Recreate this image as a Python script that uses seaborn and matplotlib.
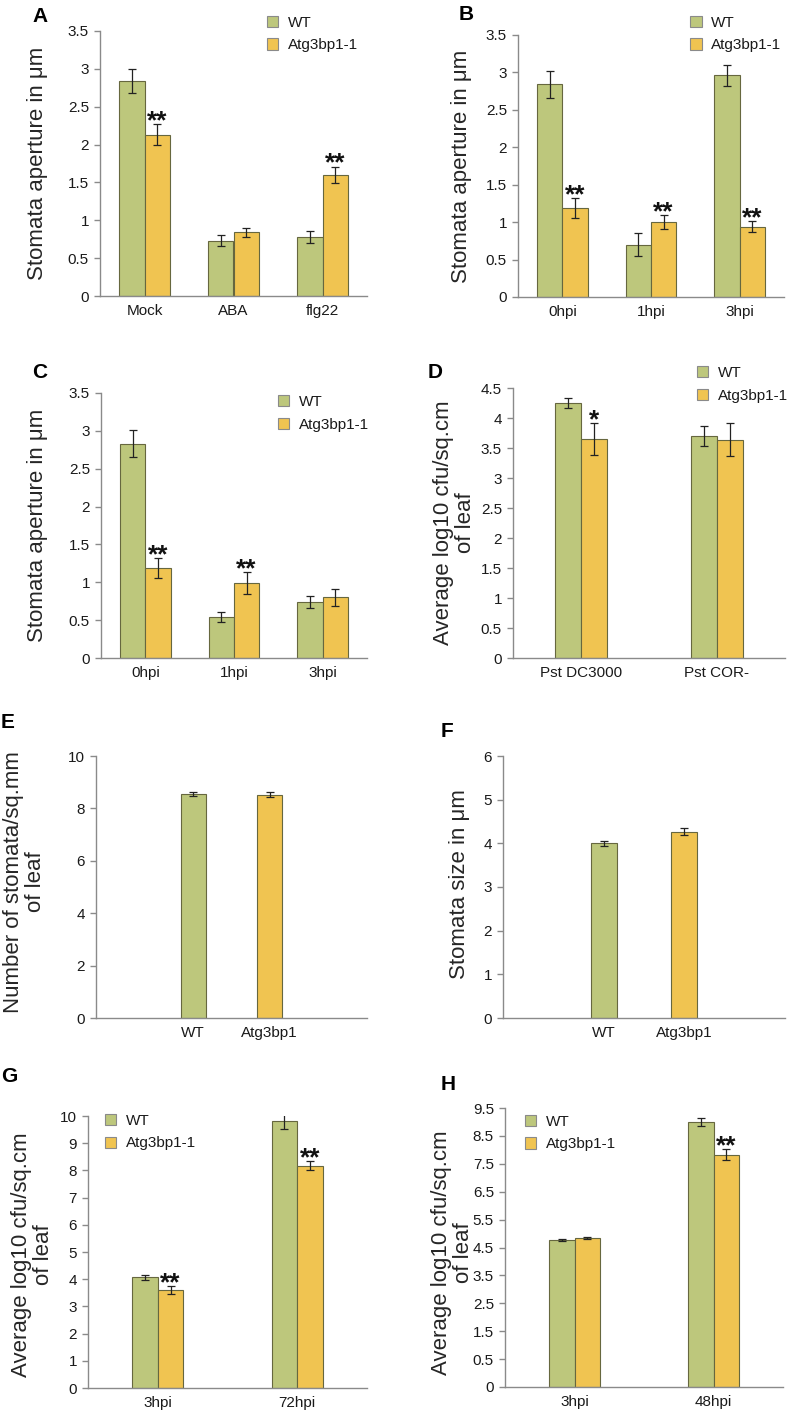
import numpy as np
import pandas as pd
import matplotlib
matplotlib.use("Agg")
import matplotlib.pyplot as plt
from matplotlib.patches import Patch
import seaborn as sns

genotypes = ["WT", "Atg3bp1-1"]
green = "#BDC77C"
yellow = "#F0C451"

# A: stomata aperture after treatment
a_cats = ["Mock", "ABA", "flg22"]
a_wt = [2.84, 0.73, 0.78]
a_wt_err = [0.16, 0.07, 0.08]
a_atg = [2.13, 0.84, 1.60]
a_atg_err = [0.14, 0.06, 0.11]
a_sig = ["**", "", "**"]

# B: stomata aperture after infection
b_cats = ["0hpi", "1hpi", "3hpi"]
b_wt = [2.84, 0.70, 2.96]
b_wt_err = [0.18, 0.15, 0.14]
b_atg = [1.19, 1.00, 0.94]
b_atg_err = [0.13, 0.09, 0.07]
b_sig = ["**", "**", "**"]

# C
c_cats = ["0hpi", "1hpi", "3hpi"]
c_wt = [2.83, 0.54, 0.74]
c_wt_err = [0.18, 0.07, 0.08]
c_atg = [1.19, 0.99, 0.80]
c_atg_err = [0.13, 0.14, 0.11]
c_sig = ["**", "**", ""]

# D: bacterial counts
d_cats = ["Pst DC3000", "Pst COR-"]
d_wt = [4.25, 3.70]
d_wt_err = [0.09, 0.17]
d_atg = [3.65, 3.64]
d_atg_err = [0.26, 0.27]
d_sig = ["*", ""]

# E / F: stomata density and size
ef_cats = ["WT", "Atg3bp1"]
e_vals = [8.55, 8.53]
e_err = [0.09, 0.10]
f_vals = [4.00, 4.26]
f_err = [0.06, 0.08]

# G
g_cats = ["3hpi", "72hpi"]
g_wt = [4.07, 9.83]
g_wt_err = [0.10, 0.31]
g_atg = [3.60, 8.17]
g_atg_err = [0.16, 0.17]
g_sig = ["**", "**"]

# H (axis floor labelled 0 sits at -0.5)
h_cats = ["3hpi", "48hpi"]
h_wt = [4.77, 8.99]
h_wt_err = [0.04, 0.15]
h_atg = [4.83, 7.82]
h_atg_err = [0.03, 0.20]
h_sig = ["", "**"]
h_yticks = [-0.5, 0.5, 1.5, 2.5, 3.5, 4.5, 5.5, 6.5, 7.5, 8.5, 9.5]
h_yticklabels = ["0", "0.5", "1.5", "2.5", "3.5", "4.5", "5.5", "6.5", "7.5", "8.5", "9.5"]

sns.set_style("white")
plt.rcParams["font.family"] = ["Liberation Sans", "DejaVu Sans"]
plt.rcParams["text.color"] = "#1a1a1a"

W, H = 791, 1416
fig = plt.figure(figsize=(W / 100, H / 100), dpi=100)
edge = "#66673f"
axis_grey = "#8a8a8a"


def px_axes(l, t, r, b):
    return fig.add_axes([l / W, 1 - b / H, (r - l) / W, (b - t) / H])


def add_errs(ax, conts, errs, sigs):
    for cont, err, sig in zip(conts, errs, sigs):
        for bar, e, s in zip(cont, err, sig):
            x = bar.get_x() + bar.get_width() / 2
            top = bar.get_y() + bar.get_height()
            ax.errorbar(x, top, yerr=e, fmt="none", ecolor="#222222",
                        elinewidth=0.9, capsize=3, capthick=0.9)
            if s:
                ax.annotate(s, (x, top + e), xytext=(0, 2), textcoords="offset points",
                            ha="center", va="center", fontsize=19, fontweight="bold",
                            color="#111111")


def grouped(ax, cats, wt, wt_err, atg, atg_err, sig, width, floor=None):
    df = pd.DataFrame({
        "cond": cats * 2,
        "genotype": [genotypes[0]] * len(cats) + [genotypes[1]] * len(cats),
        "value": wt + atg,
    })
    sns.barplot(data=df, x="cond", y="value", hue="genotype", order=cats,
                hue_order=genotypes, palette=[green, yellow], saturation=1,
                errorbar=None, width=width, legend=False, ax=ax,
                edgecolor=edge, linewidth=0.8)
    conts = list(ax.containers)
    if floor is not None:
        for cont in conts:
            for bar in cont:
                hgt = bar.get_height()
                bar.set_y(floor)
                bar.set_height(hgt - floor)
    add_errs(ax, conts, [wt_err, atg_err], [[""] * len(cats), sig])
    n = len(cats)
    ax.set_xlim(-0.5, n - 0.5)
    ax.set_xticks(np.arange(n + 1) - 0.5, minor=True)
    ax.tick_params(axis="x", which="major", length=0, pad=6)
    ax.tick_params(axis="x", which="minor", length=5, width=1, color=axis_grey, direction="out")


def single(ax, vals, err, width):
    df = pd.DataFrame({"genotype": ef_cats, "value": vals})
    sns.barplot(data=df, x="genotype", y="value", hue="genotype", order=ef_cats,
                hue_order=ef_cats, palette=[green, yellow], saturation=1,
                errorbar=None, width=width, legend=False, ax=ax,
                edgecolor=edge, linewidth=0.8)
    conts = list(ax.containers)
    add_errs(ax, conts, [[err[0]], [err[1]]], [[""], [""]])
    ax.set_xlim(-1.27, 2.27)
    ax.tick_params(axis="x", which="major", length=0, pad=6)


def style(ax, ylim, yticks, ylabel, lab_x, lab_y=0.5, yticklabels=None):
    ax.set_ylim(*ylim)
    ax.set_yticks(yticks)
    if yticklabels is not None:
        ax.set_yticklabels(yticklabels)
    else:
        ax.set_yticklabels([f"{t:g}" for t in yticks])
    ax.set_xlabel("")
    ax.set_ylabel(ylabel, fontsize=16, linespacing=1.05)
    ax.yaxis.set_label_coords(lab_x, lab_y)
    sns.despine(ax=ax)
    for sp in ["left", "bottom"]:
        ax.spines[sp].set_color(axis_grey)
        ax.spines[sp].set_linewidth(1)
    ax.tick_params(axis="y", length=4, width=1, color=axis_grey, pad=4,
                   labelsize=11, labelcolor="#1a1a1a", left=True)
    ax.tick_params(axis="x", labelsize=11, labelcolor="#1a1a1a")


def legend(ax, x, y):
    handles = [Patch(facecolor=c, edgecolor=axis_grey, linewidth=0.8, label=g)
               for c, g in zip([green, yellow], genotypes)]
    ax.legend(handles=handles, loc="upper left", bbox_to_anchor=(x, y), frameon=False,
              borderpad=0, borderaxespad=0, handlelength=0.75, handleheight=0.75,
              handletextpad=0.6, labelspacing=0.55, fontsize=11)


def letter(x, y, s):
    fig.text(x / W, 1 - y / H, s, ha="center", va="center", fontsize=15, fontweight="bold",
             color="#000000")


stomata_label = "Stomata aperture in \u03bcm"
cfu_label = "Average log10 cfu/sq.cm\nof leaf"

# A
ax = px_axes(100, 31, 367, 296)
grouped(ax, a_cats, a_wt, a_wt_err, a_atg, a_atg_err, a_sig, 0.57)
style(ax, (0, 3.5), np.arange(0, 3.51, 0.5), stomata_label, -0.195)
legend(ax, 0.625, 1.057)
letter(40, 16, "A")

# B
ax = px_axes(518, 35, 784, 297)
grouped(ax, b_cats, b_wt, b_wt_err, b_atg, b_atg_err, b_sig, 0.57)
style(ax, (0, 3.5), np.arange(0, 3.51, 0.5), stomata_label, -0.173)
legend(ax, 0.647, 1.073)
letter(466, 14, "B")

# C
ax = px_axes(101, 393, 367, 658)
grouped(ax, c_cats, c_wt, c_wt_err, c_atg, c_atg_err, c_sig, 0.57)
style(ax, (0, 3.5), np.arange(0, 3.51, 0.5), stomata_label, -0.2)
legend(ax, 0.665, 0.992)
letter(40, 373, "C")

# D
ax = px_axes(513, 388, 785, 658)
grouped(ax, d_cats, d_wt, d_wt_err, d_atg, d_atg_err, d_sig, 0.38)
style(ax, (0, 4.5), np.arange(0, 4.51, 0.5), cfu_label, -0.136)
legend(ax, 0.676, 1.081)
letter(435, 373, "D")

# E
ax = px_axes(96, 756, 367, 1018)
single(ax, e_vals, e_err, 0.33)
style(ax, (0, 10), np.arange(0, 10.1, 2), "Number of stomata/sq.mm\nof leaf", -0.185, 0.52)
letter(8, 723, "E")

# F
ax = px_axes(503, 756, 785, 1018)
single(ax, f_vals, f_err, 0.33)
style(ax, (0, 6), np.arange(0, 6.1, 1), "Stomata size in \u03bcm", -0.117, 0.51)
letter(447, 732, "F")

# G
ax = px_axes(88, 1116, 367, 1388)
grouped(ax, g_cats, g_wt, g_wt_err, g_atg, g_atg_err, g_sig, 0.366)
style(ax, (0, 10), np.arange(0, 10.1, 1), cfu_label, -0.122, 0.49)
legend(ax, 0.061, 1.007)
letter(9, 1077, "G")

# H
ax = px_axes(505, 1108, 783, 1387)
grouped(ax, h_cats, h_wt, h_wt_err, h_atg, h_atg_err, h_sig, 0.36, floor=-0.5)
style(ax, (-0.5, 9.5), h_yticks, cfu_label, -0.112, 0.48, yticklabels=h_yticklabels)
legend(ax, 0.072, 0.975)
letter(448, 1085, "H")

fig.savefig("out.png", dpi=100)
